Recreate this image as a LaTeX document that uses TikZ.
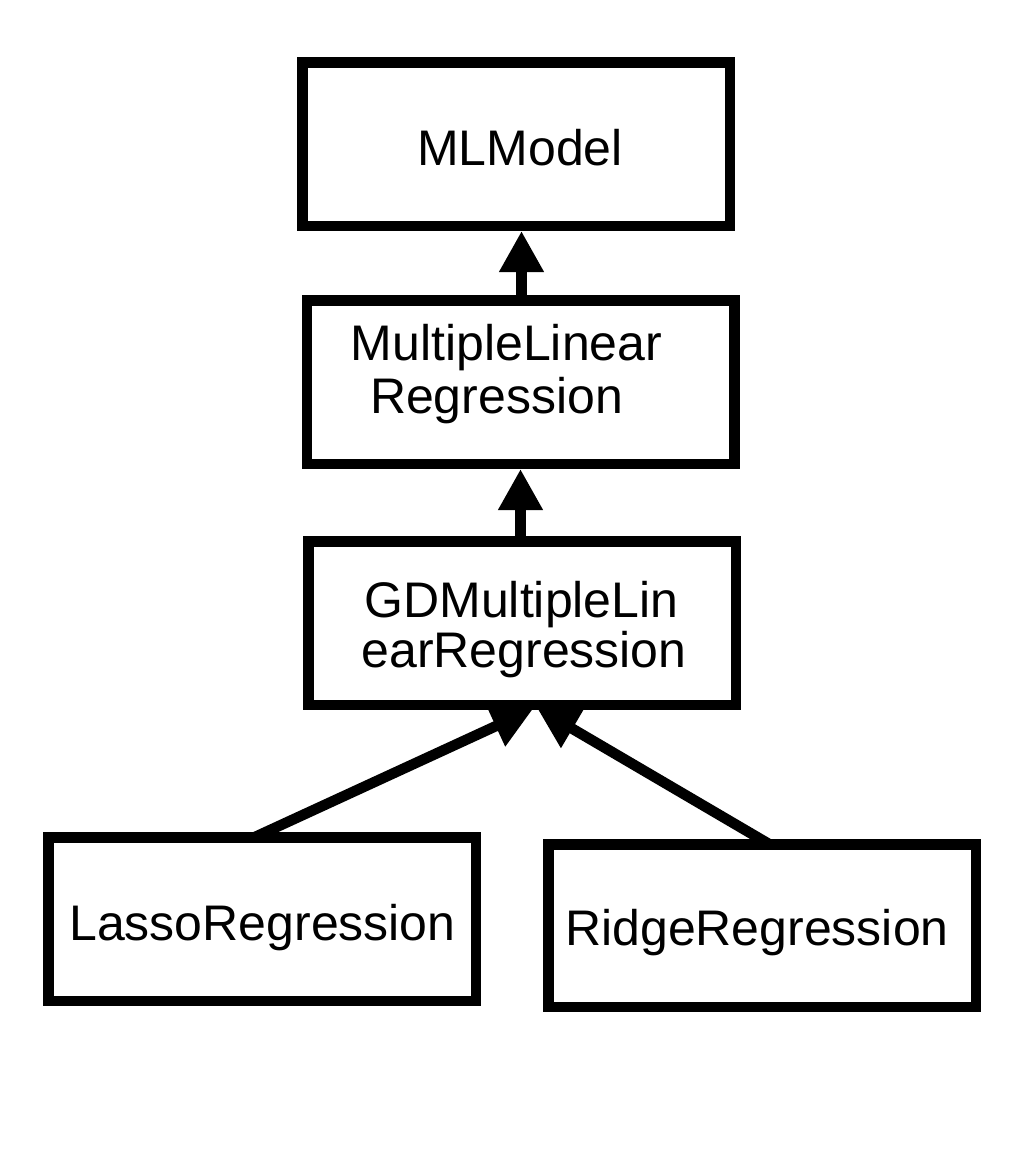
\documentclass[tikz,border=0pt]{standalone}
\usepackage{fontspec}
\setmainfont{Liberation Sans}
\usetikzlibrary{arrows.meta}
\begin{document}
\begin{tikzpicture}[x=1pt,y=-1pt,
  box/.style={draw=black, line width=10.5pt, minimum width=427.5pt, minimum height=163.5pt, inner sep=0pt, fill=white},
  lbl/.style={anchor=base, inner sep=0pt, font=\fontsize{50}{60}\selectfont},
  arr/.style={line width=10.5pt, -{Triangle[length=41pt,width=42pt]}}]
\useasboundingbox[fill=white] (0,0) rectangle (1027,1159);
% boxes
\node[box] (mlm) at (516,144) {};
\node[box] (mlr) at (520.5,382) {};
\node[box] (gd) at (522,623) {};
\node[box] (lasso) at (262,919) {};
\node[box, minimum height=162.5pt] (ridge) at (762,925.5) {};
% texts
\node[lbl] (tmlm) at (520,165) {MLModel};
\node[lbl] (tmlr1) at (506.5,360) {MultipleLinear};
\node[lbl] (tmlr2) at (496.5,413) {Regression};
\node[lbl] (tgd1) at (521.5,617) {GDMultipleLin};
\node[lbl] (tgd2) at (524,667) {earRegression};
\node[lbl] (tlasso) at (262.5,940) {LassoRegression};
\node[lbl] (tridge) at (757,945) {RidgeRegression};
% connectors
\coordinate (a1) at ([xshift=1pt]mlr.north);
\draw[arr] (a1) -- (a1 |- mlm.south);
\coordinate (a2) at ([xshift=-1.5pt]gd.north);
\draw[arr] (a2) -- (a2 |- mlr.south);
\draw[arr] ([xshift=-7pt,yshift=-5pt]lasso.north) -- ([xshift=11pt,yshift=1pt]gd.south);
\draw[arr] ([xshift=7pt,yshift=-5pt]ridge.north) -- ([xshift=15pt,yshift=2pt]gd.south);
\end{tikzpicture}
\end{document}
